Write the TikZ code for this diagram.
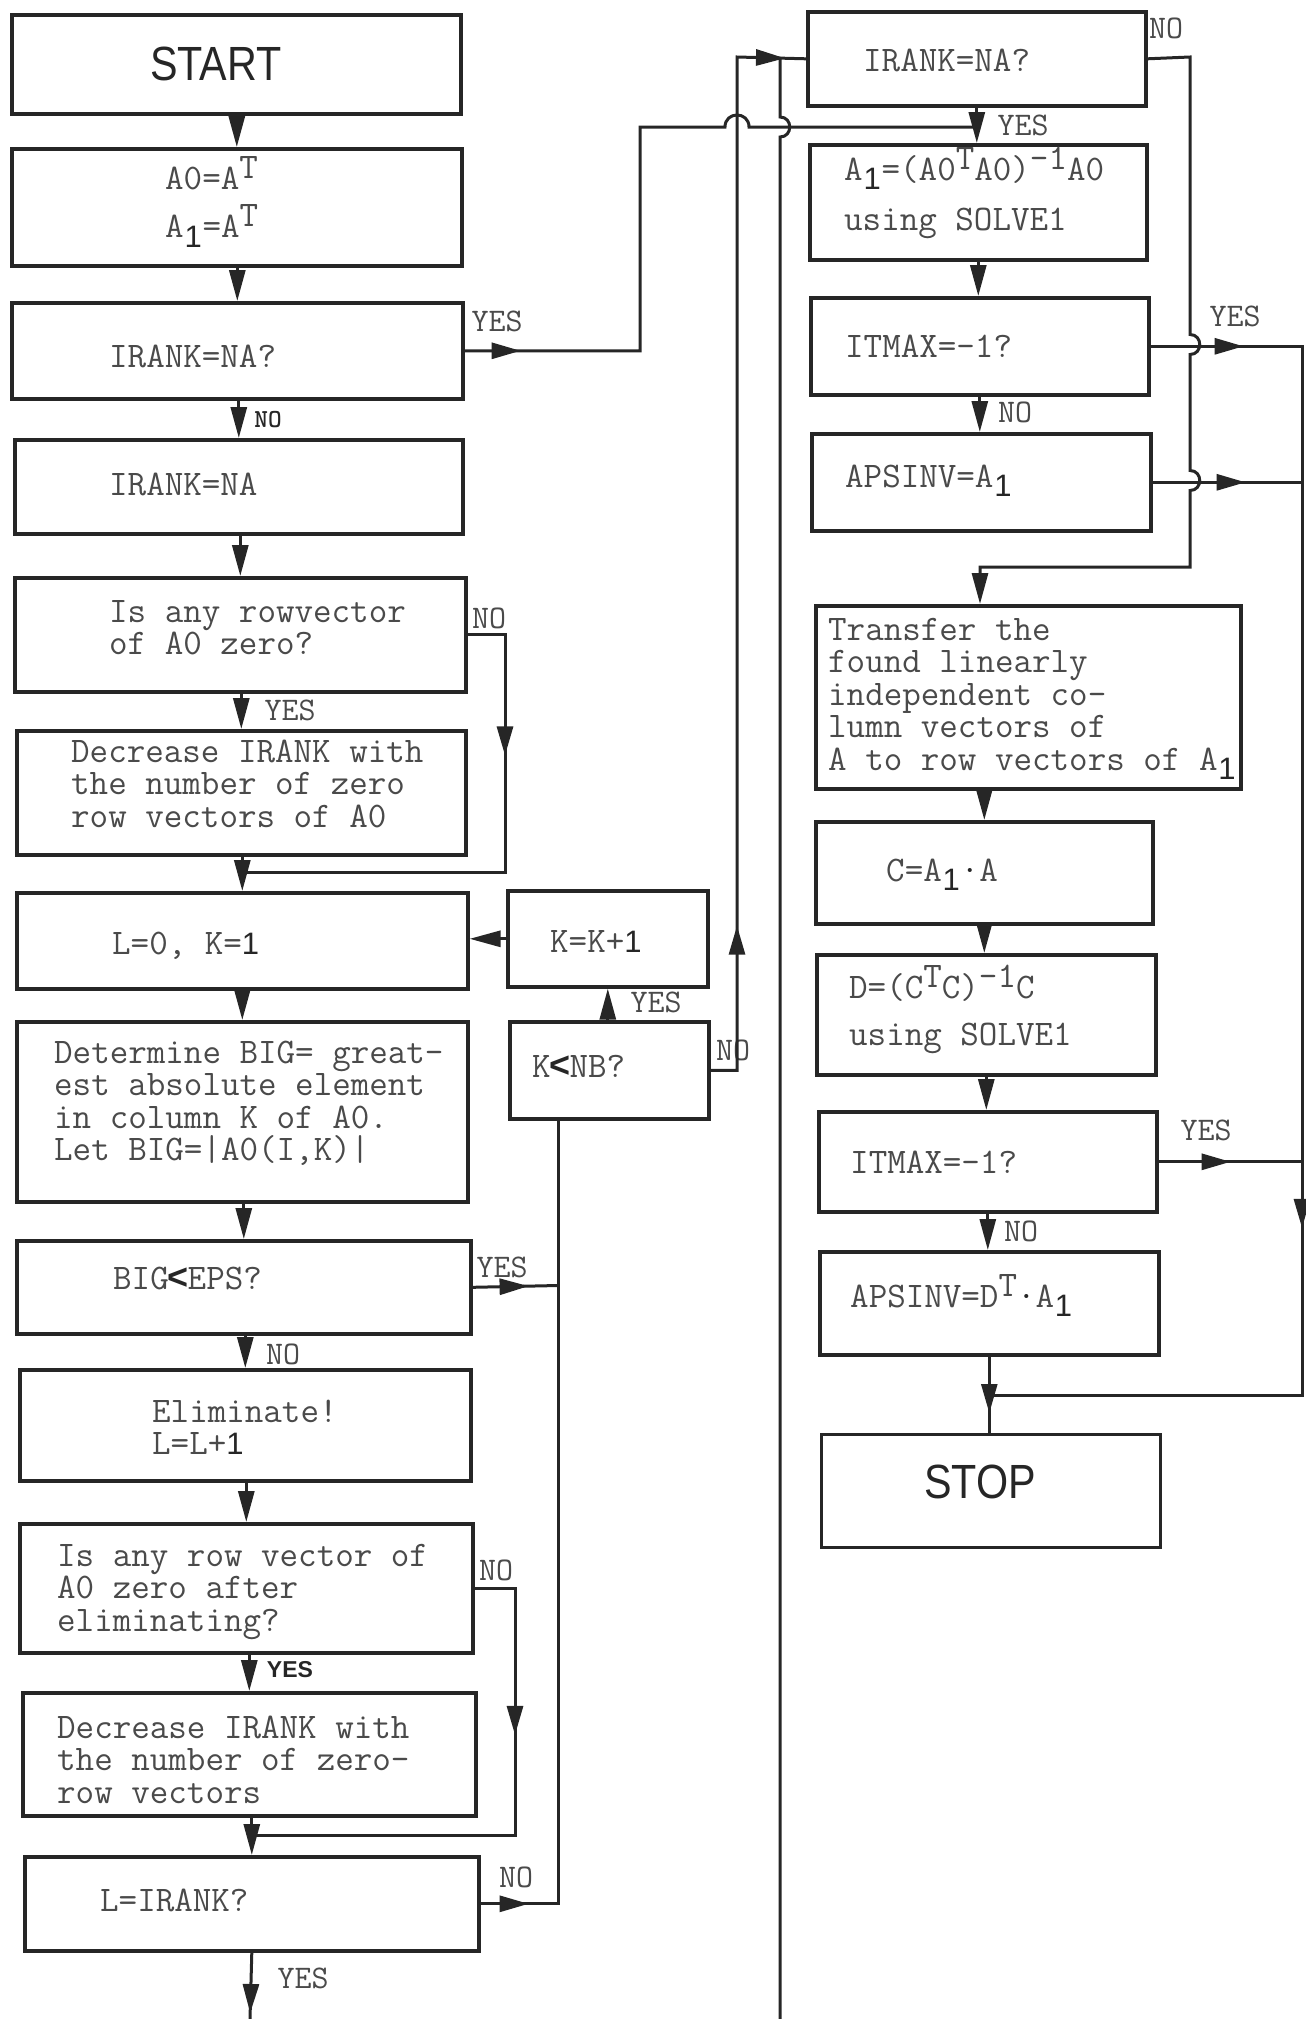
\documentclass[tikz,border=0pt]{standalone}
\usepackage{fontspec}
\newfontfamily\handfont{Liberation Sans}
\newfontfamily\bigsans[FakeStretch=0.86]{Liberation Sans}
\usetikzlibrary{arrows.meta,decorations.markings}
\definecolor{linec}{HTML}{262626}
\definecolor{textc}{HTML}{4A4A4A}
\newcommand\supx[1]{\raisebox{0.3em}{#1}}
\newcommand\subone{\makebox[0.525em]{\raisebox{-0.26em}{\color{linec}\handfont\fontsize{31}{32}\selectfont 1}}}
\newcommand\hlt{\makebox[0.525em]{\color{linec}\handfont\bfseries <}}
\newcommand\tstrut{\rule{0pt}{34pt}}
\newcommand\nolsk{\lineskiplimit=-100pt\relax}
\newcommand\mkbox[5]{\node[box, minimum width={#4-#2}, minimum height={#5-#3}] (#1) at (#2,#3) {};}
\tikzset{
  box/.style={draw=linec, line width=3.6pt, inner sep=0pt, anchor=north west},
  conn/.style={draw=linec, color=linec, line width=3pt},
  arr/.style={conn, -{Triangle[length=31pt,width=16pt]}},
  marr/.style={postaction={decorate, decoration={markings, mark=at position #1 with {\arrow{Triangle[length=29pt,width=16pt]}}}}},
  txt/.style={inner sep=0pt, anchor=north west, align=left, text=textc,
    font=\ttfamily\fontsize{36}{32.5}\selectfont\nolsk},
  lab/.style={inner sep=0pt, text=textc, font=\ttfamily\fontsize{33}{34}\selectfont},
}
\begin{document}
\begin{tikzpicture}[x=1pt, y=-1pt]
\useasboundingbox (0,0) rectangle (1306,2019);
% ---------- left column boxes
\mkbox{start}{10}{13}{459}{112}
\mkbox{ao}{10}{147}{460}{264}
\mkbox{d1}{10}{301}{461}{397}
\mkbox{irank}{13}{438}{461}{532}
\mkbox{q1}{13}{576}{464}{690}
\mkbox{dec1}{15}{729}{464}{853}
\mkbox{lk}{15}{891}{466}{987}
\mkbox{big}{15}{1020}{466}{1200}
\mkbox{eps}{15}{1239}{469}{1332}
\mkbox{elim}{18}{1368}{469}{1479}
\mkbox{q2}{18}{1522}{471}{1651}
\mkbox{dec2}{21}{1691}{474}{1814}
\mkbox{lir}{23}{1855}{477}{1949}
\mkbox{kk}{506}{889}{706}{985}
\mkbox{knb}{508}{1020}{707}{1117}
% ---------- right column boxes
\mkbox{rq}{806}{10}{1144}{104}
\mkbox{a1}{808}{143}{1145}{258}
\mkbox{it1}{809}{296}{1147}{393}
\mkbox{aps1}{810}{432}{1149}{529}
\mkbox{tr}{814}{604}{1239}{787}
\mkbox{c}{814}{820}{1151}{922}
\mkbox{d}{815}{953}{1154}{1073}
\mkbox{it2}{817}{1110}{1155}{1210}
\mkbox{aps2}{818}{1250}{1157}{1353}
\node[box, line width=3pt, minimum width=339, minimum height=113] (stop) at (820,1433) {};
% ---------- texts
\node[inner sep=0pt, text=linec, font=\bigsans\fontsize{48}{50}\selectfont] (t-start) at (216,64) {START};
\node[inner sep=0pt, text=linec, font=\bigsans\fontsize{48}{50}\selectfont] (t-stop) at (980,1482) {STOP};
\node[txt] (t-ao) at (165,155) {\tstrut A0=A\supx{T}\\[16pt]A\subone=A\supx{T}};
\node[txt] (t-d1) at (109,333) {\tstrut IRANK=NA?};
\node[txt] (t-irank) at (109,461) {\tstrut IRANK=NA};
\node[txt] (t-q1) at (109,588) {\tstrut Is any rowvector\\of A0 zero?};
\node[txt] (t-dec1) at (71,728) {\tstrut Decrease IRANK with\\the number of zero\\row vectors of A0};
\node[txt] (t-lk) at (112,920) {\tstrut L=0, K={\color{linec}\handfont\fontsize{31}{32}\selectfont 1}};
\node[txt] (t-big) at (54,1029) {\tstrut Determine BIG= great-\\est absolute element\\in column K of A0.\\Let BIG=|A0(I,K)|};
\node[txt] (t-eps) at (113,1255) {\tstrut BIG\hlt EPS?};
\node[txt] (t-elim) at (152,1388) {\tstrut Eliminate!\\L=L+{\color{linec}\handfont\fontsize{31}{32}\selectfont 1}};
\node[txt] (t-q2) at (57,1532) {\tstrut Is any row vector of\\A0 zero after\\eliminating?};
\node[txt] (t-dec2) at (57,1704) {\tstrut Decrease IRANK with\\the number of zero-\\row vectors};
\node[txt] (t-lir) at (100,1877) {\tstrut L=IRANK?};
\node[txt] (t-kk) at (550,918) {\tstrut K=K+{\color{linec}\handfont\fontsize{31}{32}\selectfont 1}};
\node[txt] (t-knb) at (532,1043) {\tstrut K\hlt NB?};
\node[txt] (t-rq) at (863,37) {\tstrut IRANK=NA?};
\node[txt] (t-a1) at (844,146) {\tstrut A\subone=(A0\supx{T}A0)\supx{-1}A0\\[18pt]using SOLVE1};
\node[txt] (t-it1) at (845,323) {\tstrut ITMAX=-1?};
\node[txt] (t-aps1) at (845,453) {\tstrut APSINV=A\subone};
\node[txt] (t-tr) at (828,606) {\tstrut Transfer the\\found linearly\\independent co-\\lumn vectors of\\A to row vectors of A\subone};
\node[txt] (t-c) at (886,847) {\tstrut C=A\subone{\color{linec}·}A};
\node[txt] (t-d) at (849,964) {\tstrut D=(C\supx{T}C)\supx{-1}C\\[15pt]using SOLVE1};
\node[txt] (t-it2) at (850,1139) {\tstrut ITMAX=-1?};
\node[txt] (t-aps2) at (850,1273) {\tstrut APSINV=D\supx{T}{\color{linec}·}A\subone};
% ---------- labels
\node[lab] (l1) at (497,321) {YES};
\node[lab, font=\ttfamily\bfseries\fontsize{26}{28}\selectfont, text=linec] (l2) at (268,420) {NO};
\node[lab] (l3) at (489,618) {NO};
\node[lab] (l4) at (290,710) {YES};
\node[lab] (l5) at (656,1002) {YES};
\node[lab] (l6) at (733,1050) {NO};
\node[lab] (l7) at (502,1267) {YES};
\node[lab] (l8) at (283,1354) {NO};
\node[lab] (l9) at (496,1570) {NO};
\node[lab, font=\handfont\bfseries\fontsize{23}{25}\selectfont, text=linec] (l10) at (290,1670) {YES};
\node[lab] (l11) at (516,1877) {NO};
\node[lab] (l12) at (303,1978) {YES};
\node[lab] (l13) at (1166,28) {NO};
\node[lab] (l14) at (1023,125) {YES};
\node[lab] (l15) at (1235,316) {YES};
\node[lab] (l16) at (1015,412) {NO};
\node[lab] (l17) at (1206,1130) {YES};
\node[lab] (l18) at (1021,1231) {NO};
% ---------- coordinates
\coordinate (ja) at (975,127);
\coordinate (jt) at (780,57);
\coordinate (lb) at (780,2019);
\coordinate (j1) at (240.5,872);
\coordinate (j3) at (980,567);
\coordinate (rx) at (1302,0);
\coordinate (j5) at (987.5,1395);
\coordinate (j7) at (558,1285.5);
\coordinate (j9) at (250,1835);
\coordinate (lb2) at (250,2019);
% ---------- left column connectors
\draw[arr] (start.south -| ao.north) -- (ao.north);
\draw[arr] (ao.south -| d1.north) -- (d1.north);
\draw[arr] (d1.south -| irank.north) -- (irank.north);
\draw[arr] (irank.south -| q1.north) -- (q1.north);
\draw[arr] (q1.south -| dec1.north) -- (dec1.north);
\draw[arr] (dec1.south -| lk.north) -- (lk.north);
\draw[arr] (lk.south -| big.north) -- (big.north);
\draw[arr] (big.south -| eps.north) -- (eps.north);
\draw[arr] (eps.south -| elim.north) -- (elim.north);
\draw[arr] (elim.south -| q2.north) -- (q2.north);
\draw[arr] (q2.south -| dec2.north) -- (dec2.north);
\draw[arr] (dec2.south -| lir.north) -- (lir.north);
\draw[conn, marr=158pt] (q1.east) -| (505,872) -- (j1);
\draw[conn, marr=187pt] (q2.east) -| (515,1835) -- (j9);
\draw[conn, marr=56pt] (eps.east) -- (j7);
\draw[conn, marr=48pt] (lir.east) -- (lir.east -| j7) -- (j7 |- knb.south);
\draw[conn, marr=-6pt] (lir.south) -- (lb2);
\draw[arr] (knb.north -| kk.south) -- (kk.south);
\draw[arr] (kk.west) -- (kk.west -| lk.east);
% ---------- cross connectors
\draw[conn, marr=171pt, marr=-21pt] (knb.east) -| (737,57) -- (rq.west);
\draw[conn] (lb) -- (780,137) .. controls (793,137) and (793,117) .. (780,117) -- (jt);
\draw[conn, marr=56pt] (d1.east) -| (640,127) -- (725,127) .. controls (725,111) and (749,111) .. (749,127) -- (ja);
% ---------- right column connectors
\draw[arr] (rq.south) -- (rq.south |- a1.north);
\draw[arr] (a1.south) -- (a1.south |- it1.north);
\draw[arr] (it1.south) -- (it1.south |- aps1.north);
\draw[arr] (tr.south -| c.north) -- (c.north);
\draw[arr] (c.south) -- (c.south |- d.north);
\draw[arr] (d.south) -- (d.south |- it2.north);
\draw[arr] (it2.south) -- (it2.south |- aps2.north);
\draw[arr] (rq.east) -- (1190,57) -- (1190,334.5) .. controls (1203,334.5) and (1203,354.5) .. (1190,354.5)
  -- (1190,470.5) .. controls (1203,470.5) and (1203,490.5) .. (1190,490.5) -- (1190,567) -- (j3) -- (j3 |- tr.north);
\draw[conn, marr=93pt, marr=1033pt] (it1.east) -- (it1.east -| rx) -- (rx |- j5) -- (j5);
\draw[conn, marr=93pt] (aps1.east) -- (aps1.east -| rx);
\draw[conn, marr=72pt] (it2.east) -- (it2.east -| rx);
\draw[conn, line width=2.5pt, marr=-20pt] (aps2.south) -- (aps2.south |- stop.north);
\end{tikzpicture}
\end{document}
